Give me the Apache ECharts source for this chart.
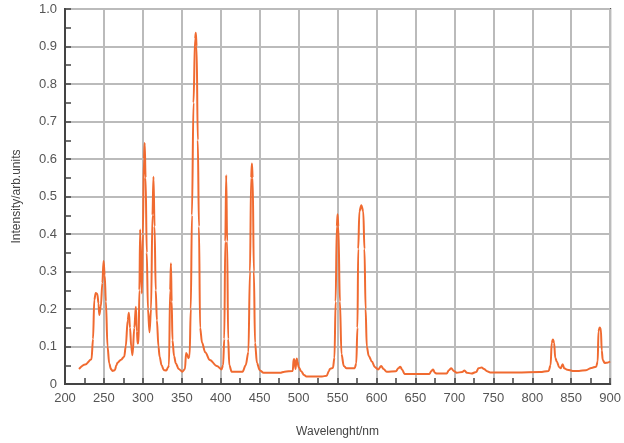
<!DOCTYPE html>
<html>
<head>
<meta charset="utf-8">
<script src="https://cdn.jsdelivr.net/npm/echarts@6/dist/echarts.min.js"></script>
<style>
html,body{margin:0;padding:0;background:#fff;}
#chart{width:624px;height:443px;}
</style>
</head>
<body>
<div id="chart"></div>
<script>
// Wavelength (nm) and intensity (arb. units)
var wavelength = [
218,226,234,236,237.6,239.5,241.5,243,244,246,248,249.5,251,252.5,254.6,256.8,259,261,264,266,267.4,272,276,278,280.5,282,283.5,285,286.7,
289,291,292.3,293.3,294.5,295.5,296.5,297.5,298.7,300,301.3,302.3,303.5,305,306.5,308.5,310.5,312.3,313.6,315,316.5,318,320,321.5,324,327,330,
332.5,333.5,335,336,337,338,340,342.3,346,350.8,354,355.5,357,358.5,360,361.5,363,365,367,368,369,370.5,372,373.5,376,380,386,395,
401,403,404.5,405.8,407,408.2,409.5,411,414,428,432,435.5,437.5,439,440,441,442.5,444,446.5,450,455,476,482,
492.5,493.5,494.5,496,497.5,498.5,500,503,507,510,530,536,539,540,544,546,547.5,549,550,551,553,555,558,561.5,
572,574,575.5,576.5,578,580.5,583,584.5,586,587.5,590,594,598,602,606,609,613,625,628,630.5,633,636,668,670.5,672.6,675,677,
690,693,696,699,703,710,713,716,722,728,731,735,738,742,746,780,810,821,823.5,825,826.5,828,829.5,831.5,834.5,836.5,839,841,845,
852,860,869,876,882,884,885,886.5,888,889.2,890.5,893,896,900
];
var intensity = [
0.04,0.052,0.066,0.12,0.224,0.243,0.24,0.215,0.184,0.206,0.27,0.328,0.29,0.22,0.1,0.055,0.04,0.035,0.037,0.05,0.057,0.065,0.073,0.1,0.17,0.19,0.15,0.1,0.077,
0.15,0.206,0.14,0.108,0.11,0.25,0.412,0.3,0.242,0.4,0.6,0.643,0.55,0.35,0.2,0.138,0.2,0.45,0.553,0.42,0.25,0.17,0.1,0.073,0.05,0.037,0.036,
0.045,0.05,0.25,0.322,0.22,0.117,0.075,0.055,0.04,0.033,0.04,0.083,0.078,0.069,0.075,0.2,0.45,0.75,0.92,0.937,0.9,0.65,0.42,0.15,0.11,0.085,0.064,0.048,
0.039,0.05,0.12,0.38,0.557,0.38,0.12,0.05,0.033,0.033,0.05,0.085,0.3,0.55,0.588,0.55,0.3,0.11,0.056,0.037,0.03,0.03,0.033,
0.035,0.066,0.066,0.04,0.068,0.06,0.045,0.035,0.024,0.02,0.02,0.022,0.035,0.04,0.043,0.07,0.22,0.42,0.453,0.42,0.22,0.08,0.048,0.042,
0.042,0.055,0.15,0.36,0.46,0.477,0.46,0.36,0.2,0.1,0.075,0.06,0.045,0.039,0.048,0.04,0.033,0.034,0.042,0.046,0.038,0.027,0.027,0.035,0.039,0.03,0.028,
0.028,0.037,0.042,0.035,0.03,0.032,0.036,0.03,0.028,0.032,0.042,0.044,0.04,0.034,0.031,0.031,0.032,0.035,0.05,0.11,0.119,0.11,0.07,0.06,0.045,0.042,0.053,0.042,0.038,
0.035,0.035,0.037,0.043,0.046,0.06,0.14,0.151,0.148,0.09,0.064,0.056,0.057,0.06
];
var xRange = [200, 900];
var yRange = [0, 1];

var seriesData = wavelength.map(function (w, i) { return [w, intensity[i]]; });

var chart = echarts.init(document.getElementById('chart'), null, {renderer: 'canvas'});
var labelFont = {color: '#555', fontSize: 13, fontFamily: 'Liberation Sans, Arial, sans-serif'};
chart.setOption({
  animation: false,
  backgroundColor: '#fff',
  grid: {left: 65, right: 13, top: 9, bottom: 59, show: true, borderColor: '#444', borderWidth: 2, backgroundColor: 'transparent'},
  xAxis: {
    type: 'value', min: xRange[0], max: xRange[1], interval: 50,
    name: 'Wavelenght/nm', nameLocation: 'middle', nameGap: 42,
    nameTextStyle: {color: '#444', fontSize: 12, fontFamily: 'Liberation Sans, Arial, sans-serif'},
    axisLine: {show: true, lineStyle: {color: '#444', width: 2}},
    axisTick: {show: true, inside: true, length: 6, lineStyle: {color: '#444', width: 1.5}},
    minorTick: {show: true, splitNumber: 2, length: 6, lineStyle: {color: '#444', width: 1.5}},
    axisLabel: Object.assign({margin: 8}, labelFont),
    splitLine: {show: true, lineStyle: {color: '#bbb', width: 2}}
  },
  yAxis: {
    type: 'value', min: yRange[0], max: yRange[1], interval: 0.1,
    name: 'Intensity/arb.units', nameLocation: 'middle', nameGap: 42,
    nameTextStyle: {color: '#444', fontSize: 12, fontFamily: 'Liberation Sans, Arial, sans-serif'},
    axisLine: {show: true, lineStyle: {color: '#444', width: 2}},
    axisTick: {show: true, inside: true, length: 6, lineStyle: {color: '#444', width: 1.5}},
    minorTick: {show: true, splitNumber: 2, length: 6, lineStyle: {color: '#444', width: 1.5}},
    axisLabel: Object.assign({margin: 8, formatter: function (v) { return v === 0 ? '0' : v.toFixed(1); }}, labelFont),
    splitLine: {show: true, lineStyle: {color: '#bbb', width: 2}}
  },
  series: [{
    type: 'line',
    data: seriesData,
    showSymbol: false,
    smooth: 0.35,
    smoothMonotone: 'x',
    lineStyle: {color: '#F06A30', width: 2},
    itemStyle: {color: '#F06A30'}
  }]
});
</script>
</body>
</html>
